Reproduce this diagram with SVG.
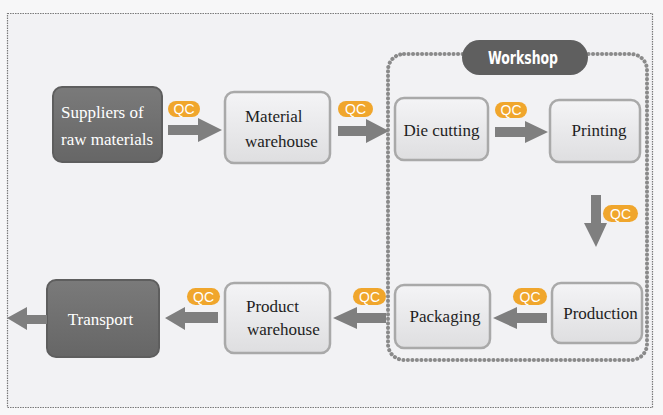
<svg xmlns="http://www.w3.org/2000/svg" width="663" height="415" viewBox="0 0 663 415">
<style>
.lbl{font-family:"Liberation Serif","Times New Roman",serif;font-size:17px;fill:#1e1e1e}
.lblw{font-family:"Liberation Serif","Times New Roman",serif;font-size:17px;fill:#ffffff}
.light{fill:url(#gl);stroke:#a9a9a9;stroke-width:2.5}
.dark{fill:url(#gd);stroke:#5e5e5e;stroke-width:2}
.qc rect{fill:#f0a62c}
.qc text{font-family:"Liberation Sans",Arial,sans-serif;font-size:14px;fill:#ffffff;text-anchor:middle}
.arr{fill:#7f7f7f}
</style>
<defs>
<linearGradient id="gl" x1="0" y1="0" x2="0" y2="1">
<stop offset="0" stop-color="#f4f4f6"/>
<stop offset="1" stop-color="#dedee0"/>
</linearGradient>
<linearGradient id="gd" x1="0" y1="0" x2="0" y2="1">
<stop offset="0" stop-color="#7a7a7a"/>
<stop offset="1" stop-color="#666666"/>
</linearGradient>
</defs>
<rect x="0" y="0" width="663" height="415" fill="#f7f7f8"/>
<rect x="7.5" y="13.5" width="645" height="394" fill="#f2f2f4" stroke="#7a7a7a" stroke-width="1.2" stroke-dasharray="1.5 1"/>

<g id="workshop">
<rect x="388" y="54" width="259" height="306" rx="16" fill="none" stroke="#8a8a8a" stroke-width="4" stroke-linecap="round" stroke-dasharray="0.1 4.4"/>
<rect x="462" y="40" width="126" height="35" rx="17.5" fill="#5f5f5f"/>
<text x="488" y="64" textLength="70" lengthAdjust="spacingAndGlyphs" style="font-family:'Liberation Sans Narrow','DejaVu Sans Condensed','Liberation Sans',sans-serif;font-weight:bold;font-size:18px;fill:#ffffff">Workshop</text>
</g>

<g id="suppliers">
<rect class="dark" x="53" y="87" width="109" height="75" rx="9"/>
<text class="lblw" x="61" y="118">Suppliers of</text>
<text class="lblw" x="61" y="145">raw materials</text>
</g>
<g id="material-warehouse">
<rect class="light" x="225" y="92" width="105" height="71" rx="9"/>
<text class="lbl" x="245" y="122">Material</text>
<text class="lbl" x="245" y="147">warehouse</text>
</g>
<g id="die-cutting">
<rect class="light" x="395" y="98" width="93" height="62" rx="9"/>
<text class="lbl" x="441.5" y="136" text-anchor="middle">Die cutting</text>
</g>
<g id="printing">
<rect class="light" x="550" y="100" width="90" height="62" rx="9"/>
<text class="lbl" x="599" y="136" text-anchor="middle">Printing</text>
</g>
<g id="production">
<rect class="light" x="552" y="283" width="90" height="60" rx="9"/>
<text class="lbl" x="600.5" y="319" text-anchor="middle">Production</text>
</g>
<g id="packaging">
<rect class="light" x="395" y="285" width="95" height="63" rx="9"/>
<text class="lbl" x="445" y="322" text-anchor="middle">Packaging</text>
</g>
<g id="product-warehouse">
<rect class="light" x="225" y="283" width="105" height="70" rx="9"/>
<text class="lbl" x="246" y="312">Product</text>
<text class="lbl" x="247" y="335">warehouse</text>
</g>
<g id="transport">
<rect class="dark" x="47" y="280" width="112" height="77" rx="9"/>
<text class="lblw" x="100.5" y="325" text-anchor="middle">Transport</text>
</g>

<g id="connectors">
<path class="arr" d="M168,125 H198 V118 L222,130 L198,142 V135 H168 Z"/>
<path class="arr" d="M338,126 H366 V119 L389,131 L366,143 V136 H338 Z"/>
<path class="arr" d="M495,127 H525 V121 L548,132 L525,143 V137 H495 Z"/>
<path class="arr" d="M591,195 V223 H584 L596,247 L607,223 H601 V195 Z"/>
<path class="arr" d="M547,313 H517 V307 L493,318 L517,329 V323 H547 Z"/>
<path class="arr" d="M386,313 H357 V307 L333,318 L357,329 V323 H386 Z"/>
<path class="arr" d="M218,312 H185 V307 L165,318 L185,330 V323 H218 Z"/>
<path class="arr" d="M47,315 H27 V307 L7,318 L27,330 V324 H47 Z"/>
<g class="qc"><rect x="168" y="101" width="32" height="16" rx="8"/><text x="184" y="114">QC</text></g>
<g class="qc"><rect x="338" y="101" width="35" height="16" rx="8"/><text x="355.5" y="114">QC</text></g>
<g class="qc"><rect x="495" y="102" width="32" height="16" rx="8"/><text x="511" y="115">QC</text></g>
<g class="qc"><rect x="603" y="205" width="35" height="17" rx="8.5"/><text x="620.5" y="218.5">QC</text></g>
<g class="qc"><rect x="513" y="288" width="34" height="17" rx="8.5"/><text x="530" y="301.5">QC</text></g>
<g class="qc"><rect x="353" y="288" width="33" height="17" rx="8.5"/><text x="369.5" y="301.5">QC</text></g>
<g class="qc"><rect x="187" y="288" width="33" height="17" rx="8.5"/><text x="203.5" y="301.5">QC</text></g>
</g>
</svg>
